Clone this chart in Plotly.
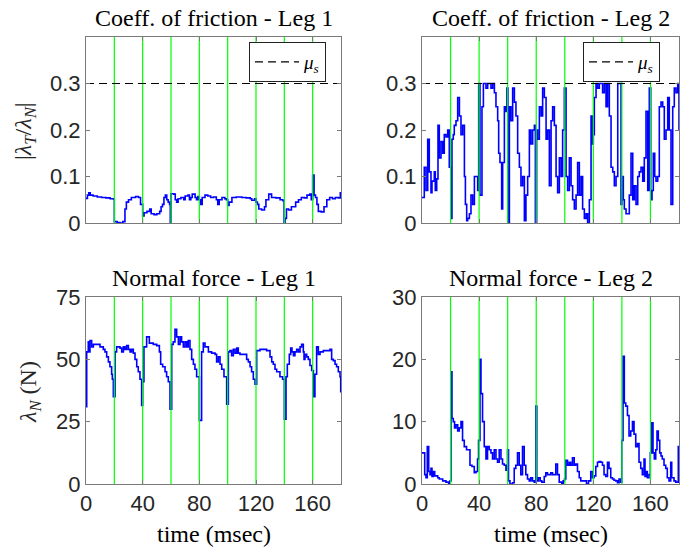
import plotly.graph_objects as go

# ---------------- data ----------------
contact_times = [20, 40, 60, 80, 100, 120, 140, 160]
mu_s = 0.3
x_ticks = [0, 40, 80, 120, 160]

# Coefficient of friction, leg 1: (time msec, |lambda_T/lambda_N|)
mu_leg1 = [(0,0.053),(1,0.06),(2,0.065),(3,0.06),(5,0.058),(8,0.056),(11,0.055),(14,0.054),(17,0.052),(19.5,0.051),
           (20,0.003),(22,0.001),(24,0.0),(26,0.003),(27.5,0.03),(28.5,0.045),(30,0.05),(32,0.055),(35,0.057),(37,0.055),(38.5,0.04),
           (40,0.015),(41,0.022),(43,0.025),(45,0.03),(46,0.02),(48,0.018),(50,0.02),(52,0.025),(53,0.035),(54,0.04),(55,0.055),(56,0.06),(57,0.05),(58,0.045),(59,0.04),
           (59.5,0.0),(60,0.063),(62,0.062),(63,0.05),(64,0.045),(65,0.052),(67,0.055),(69,0.05),(70,0.058),(72,0.06),(73,0.05),(74,0.055),(75,0.062),(77,0.055),(78,0.05),(79,0.057),
           (80,0.05),(81,0.04),(82,0.055),(84,0.06),(86,0.058),(88,0.055),(90,0.056),(92,0.05),(93,0.04),(94,0.05),(96,0.055),(98,0.052),(99,0.05),
           (100,0.038),(101,0.045),(103,0.055),(106,0.056),(110,0.055),(113,0.054),(116,0.052),(117,0.049),(119,0.052),
           (120,0.045),(121,0.04),(122,0.03),(124,0.028),(126,0.035),(127,0.05),(129,0.062),(131,0.055),(134,0.054),(137,0.05),(139,0.048),
           (139.8,0.0),(140.5,0.01),(141.5,0.03),(143,0.028),(145,0.035),(148,0.045),(150,0.05),(152,0.055),(154,0.054),(156,0.06),(158,0.062),(159,0.05),
           (160,0.103),(161,0.06),(162,0.055),(163,0.04),(164,0.025),(166,0.024),(168,0.035),(170,0.05),(172,0.055),(174,0.052),(176,0.055),(178,0.054),(179.5,0.065),(180,0.065)]

# Coefficient of friction, leg 2
mu_leg2 = [(0,0.055),(0.9,0.055),(1.6,0.12),(2.8,0.07),(4.0,0.18),(5.1,0.11),(6.3,0.065),(7.0,0.09),(8.6,0.11),(9.3,0.07),(10.3,0.095),
           (11.2,0.21),(12.1,0.14),(13.3,0.175),(14.5,0.15),(15.6,0.19),(16.8,0.185),(18.0,0.2),(19.1,0.12),(20.3,0.01),(21.0,0.18),
           (21.9,0.19),(22.6,0.21),(23.8,0.22),(25.0,0.27),(26.2,0.23),(27.3,0.19),(28.5,0.21),(29.7,0.1),(30.4,0.04),(31.3,0.005),
           (32.0,0.01),(33.2,0.02),(34.3,0.06),(35.5,0.04),(36.7,0.1),(37.8,0.1),(39.0,0.07),(39.7,0.3),(40.6,0.06),(41.3,0.06),
           (42.0,0.25),(43.0,0.3),(44.8,0.29),(46.0,0.3),(48.3,0.29),(49.5,0.3),(50.7,0.28),(51.8,0.25),(53.0,0.22),(53.7,0.15),
           (54.6,0.13),(55.8,0.03),(56.5,0.13),(57.7,0.25),(58.8,0.24),(59.5,0.29),(60.2,0.0),(61.2,0.25),(62.3,0.22),(63.5,0.29),
           (64.7,0.26),(65.8,0.23),(67.0,0.15),(68.2,0.12),(69.3,0.08),(70.5,0.1),(71.7,0.005),(72.8,0.06),(74.0,0.1),(75.2,0.2),
           (76.3,0.17),(77.5,0.2),(78.7,0.21),(79.4,0.0),(80.3,0.2),(81.0,0.18),(82.2,0.25),(83.4,0.23),(84.5,0.29),(85.7,0.27),
           (86.9,0.18),(88.0,0.2),(89.2,0.08),(90.4,0.22),(91.5,0.25),(92.7,0.21),(93.9,0.1),(95.0,0.065),(96.2,0.14),(97.4,0.1),
           (98.5,0.2),(99.7,0.29),(100.9,0.1),(102.0,0.07),(103.2,0.14),(104.4,0.08),(105.5,0.05),(106.7,0.03),(107.9,0.06),
           (109.0,0.13),(110.2,0.06),(111.4,0.1),(112.5,0.03),(113.7,0.01),(114.9,0.02),(116.0,0.0),(117.2,0.05),(118.4,0.23),
           (119.5,0.17),(120.0,0.19),(120.7,0.27),(121.9,0.3),(123.0,0.29),(124.2,0.3),(126.5,0.28),(127.7,0.3),(128.9,0.25),
           (130.0,0.3),(131.2,0.23),(132.4,0.12),(133.6,0.11),(134.7,0.08),(135.9,0.1),(137.1,0.3),(138.2,0.3),(139.4,0.04),
           (140.1,0.1),(141.0,0.05),(141.7,0.03),(142.9,0.02),(144.1,0.02),(145.2,0.06),(146.4,0.15),(147.6,0.05),(148.7,0.08),
           (149.9,0.04),(151.1,0.1),(152.2,0.11),(153.4,0.12),(154.6,0.09),(155.7,0.14),(156.9,0.24),(158.1,0.07),(159.2,0.29),
           (160.2,0.05),(161.1,0.07),(162.0,0.15),(163.0,0.1),(163.9,0.09),(165.1,0.1),(166.2,0.25),(167.4,0.26),(168.6,0.25),
           (169.7,0.18),(170.9,0.2),(172.1,0.27),(173.2,0.2),(174.4,0.04),(175.6,0.25),(176.7,0.29),(177.9,0.28),(179.1,0.3),(180,0.2)]

# Normal force, leg 1 (N)
force_leg1 = [(0,31),(0.5,53),(1.6,57),(2.4,53),(2.8,57.5),(4,55),(5.2,56),(7.5,56),(9.9,55),(12.2,54),(13.4,53),(14.6,51),
              (15.8,49),(16.9,47),(18.1,44),(18.6,42),(19.3,35),(20.5,53),(21.6,55),(24,54.5),(25.2,53),(26.4,55),(27.5,54),
              (28.7,55.5),(29.9,54),(31.1,53),(32.2,54),(33.4,52.5),(34.6,50),(35.8,47),(36.9,45),(38.1,42),(39.3,31.5),(40,41),
              (40.9,55),(42.8,59),(44.7,56.5),(47.5,56),(49.9,55.5),(51.8,53),(52.7,48),(54.1,47),(55.8,45),(56.9,43),(58.1,41),
              (59.3,30),(60.5,56),(61.6,57),(62.8,62),(64,59),(65.2,56),(66.4,59),(67.5,57),(68.7,55),(69.9,57),(71.1,55),
              (72.2,57.5),(73.4,54),(74.6,50),(75.8,48),(76.9,46),(78.1,43),(80,25.5),(81.6,53),(82.8,56.5),(84,55),(86.4,53),
              (88.7,52.5),(91.1,52),(92.2,49),(93.4,51),(94.6,48),(95.8,46),(97.4,43),(99.3,32),(100.5,53),(101.6,53.5),
              (102.8,51.5),(104,54),(105.2,52.5),(106.4,54.5),(107.5,52.5),(108.7,52),(111.1,52),(113.4,50),(114.6,49),
              (115.8,47),(116.9,45),(118.1,42),(119.3,40),(120.5,53.5),(122.8,54),(125.2,54),(127.5,53.5),(129.9,51),(131.1,49),
              (132.2,48),(133.4,46),(134.6,45),(136.9,43),(138.8,42),(140,26),(141.2,43),(142.1,48),(143.5,52),(144.5,54.5),
              (145.4,53),(146.4,51.5),(147.5,53),(148.7,54),(149.9,53),(151.1,55),(152.2,56),(153.4,53),(153.9,50),(154.6,52),
              (155.8,51),(156.9,50),(158.1,47.5),(159.3,45.5),(160.5,35),(161.6,44),(162.8,55),(164,52),(165.2,53),(167.5,53.5),
              (169.9,53.5),(172.2,54),(173.4,50),(174.6,49.5),(175.8,48),(176.9,47),(178.1,45),(179.3,43),(179.8,37),(180,37)]

# Normal force, leg 2 (N)
force_leg2 = [(0,5),(0.9,5),(1.9,1.5),(2.8,1),(3.7,6),(4.7,2),(5.6,1.5),(6.3,2.5),(7.0,1.2),(7.9,2),(8.9,1.3),(11.0,1),(12.1,0.8),
              (14.5,0.5),(16.8,0.3),(18.7,0.1),(19.6,0.5),(20.3,18),(21.0,10.5),(21.9,10),(22.8,9),(23.8,9.5),(25.0,8.5),(26.1,9),
              (27.3,10),(28.4,7),(29.6,6),(31.2,5.5),(32.6,5.5),(33.6,3),(35.0,2.8),(36.6,1.8),(37.8,2),(38.9,4),(39.6,7),(40.6,20),
              (41.3,14.5),(42.4,10),(43.6,6),(44.8,4),(45.9,6),(47.1,5.5),(48.3,5),(49.4,4),(50.6,5.5),(51.8,4),(52.9,3.5),(54.1,5.5),
              (55.3,4),(56.4,3.2),(57.6,3),(58.8,2.2),(59.9,5.5),(60.6,0.5),(61.6,0),(63.4,0.2),(64.6,2.5),(65.7,3),(66.9,5),(68.1,3),
              (69.2,1.5),(70.4,6),(71.6,3),(72.7,1.5),(73.9,0.8),(75.1,0.5),(76.2,1),(77.4,0.5),(78.6,0.3),(79.7,12.5),(80.4,0.5),
              (81.6,1),(82.8,0.5),(83.9,0.3),(85.6,1.2),(86.7,1.8),(87.9,1.5),(90.2,1.8),(91.4,1.5),(92.6,1.5),(93.7,3.2),(94.9,1.5),
              (96.1,0.3),(97.9,0),(98.9,0.5),(99.8,0.8),(100.7,3.8),(101.9,3),(103.1,3.5),(104.2,3),(105.4,4.2),(106.6,3),(107.7,3.2),
              (108.9,2),(110.1,1),(111.2,0.5),(112.4,0.5),(114.3,0.5),(115.2,0),(116.6,0.5),(118.2,2),(119.4,1),(120.5,1.3),(121.7,2.8),
              (122.9,3.5),(124.0,3.6),(125.2,3.5),(126.4,3),(127.5,1.5),(128.7,1.2),(129.9,3.5),(131.0,2.5),(132.2,1),(133.4,0.8),
              (134.5,0.6),(135.7,0.5),(136.9,0.2),(138.0,0.8),(139.2,0.3),(139.9,7),(140.8,20.5),(141.7,13),(142.7,12.5),(143.9,11),
              (145.0,7.7),(146.2,8.5),(147.4,10),(148.5,8),(149.7,6),(150.9,6.5),(152.0,3.5),(153.2,2.5),(154.3,1.5),(155.5,4),
              (156.2,1.2),(156.7,2),(157.8,1),(159.0,1.5),(159.9,5),(160.9,9.8),(161.8,5),(162.7,4),(163.7,5.5),(164.6,8.5),(165.5,7),
              (166.5,5),(167.4,4.5),(168.3,4),(169.5,3),(170.7,2.5),(171.8,1),(173.0,0.5),(174.2,3.5),(174.9,1),(176.5,0.5),(177.7,0.3),
              (178.8,0.3),(179.5,6),(180,6)]

titles = ["Coeff. of friction - Leg 1", "Coeff. of friction - Leg 2",
          "Normal force - Leg 1", "Normal force - Leg 2"]
y_ranges = [[0, 0.4], [0, 0.4], [0, 75], [0, 30]]
y_ticks = [[0, 0.1, 0.2, 0.3], [0, 0.1, 0.2, 0.3], [0, 25, 50, 75], [0, 10, 20, 30]]
y_ticktext = [["0", "0.1", "0.2", "0.3"], ["0", "0.1", "0.2", "0.3"], ["0", "25", "50", "75"], ["0", "10", "20", "30"]]
series = [mu_leg1, mu_leg2, force_leg1, force_leg2]

# ---------------- layout geometry ----------------
W, H = 692, 547
px_x = [(86, 341), (422, 679), (86, 341), (422, 679)]
px_y = [(37, 223), (37, 223), (297, 484), (297, 484)]


def fx(px):
    return px / W


def fy(py):
    return 1 - py / H


SERIF = "Liberation Serif"
SANS = "Liberation Sans"
AX_COL = "#7a7a7a"
TXT = "#262626"

fig = go.Figure()
layout = dict(width=W, height=H, autosize=False,
              margin=dict(l=0, r=0, t=0, b=0, pad=0, autoexpand=False),
              paper_bgcolor="white", plot_bgcolor="white", showlegend=True,
              annotations=[])

for i in range(4):
    xa = "x" if i == 0 else f"x{i+1}"
    ya = "y" if i == 0 else f"y{i+1}"
    xkey = "xaxis" if i == 0 else f"xaxis{i+1}"
    ykey = "yaxis" if i == 0 else f"yaxis{i+1}"
    x0, x1 = px_x[i]
    y0, y1 = px_y[i]
    layout[xkey] = dict(domain=[fx(x0), fx(x1)], range=[0, 180], anchor=ya,
                        tickvals=x_ticks, ticktext=[str(v) for v in x_ticks],
                        showticklabels=(i >= 2), ticks="inside", ticklen=4,
                        tickcolor=AX_COL, showline=True, linecolor=AX_COL, linewidth=1,
                        mirror="ticks", showgrid=False, zeroline=False, automargin=False,
                        tickfont=dict(family=SANS, size=22, color=TXT))
    layout[ykey] = dict(domain=[fy(y1), fy(y0)], range=y_ranges[i], anchor=xa,
                        tickvals=y_ticks[i], ticktext=y_ticktext[i],
                        ticks="inside", ticklen=4, tickcolor=AX_COL,
                        showline=True, linecolor=AX_COL, linewidth=1, mirror="ticks",
                        showgrid=False, zeroline=False, automargin=False,
                        tickfont=dict(family=SANS, size=22, color=TXT))

    ymax = y_ranges[i][1]
    # contact lines (green)
    gx, gy = [], []
    for c in contact_times:
        gx += [c, c, None]
        gy += [0, ymax, None]

    t_vals = [p[0] for p in series[i]]
    v_vals = [p[1] for p in series[i]]
    fig.add_trace(go.Scatter(x=t_vals, y=v_vals, mode="lines", line_shape="hv",
                             line=dict(color="#0000ff", width=1.6),
                             xaxis=xa, yaxis=ya, showlegend=False, hoverinfo="skip"))
    fig.add_trace(go.Scatter(x=gx, y=gy, mode="lines",
                             line=dict(color="#00ff00", width=1.2),
                             xaxis=xa, yaxis=ya, showlegend=False, hoverinfo="skip"))
    if i < 2:
        fig.add_trace(go.Scatter(x=[0, 180], y=[mu_s, mu_s], mode="lines",
                                 line=dict(color="black", width=1.2, dash="8px,5px"),
                                 name="<i>μ<sub>s</sub></i>",
                                 legend="legend" if i == 0 else "legend2",
                                 xaxis=xa, yaxis=ya, showlegend=True, hoverinfo="skip"))

    # subplot title
    layout["annotations"].append(dict(
        text=titles[i], x=fx((x0 + x1) / 2), y=fy(y0 - 19),
        xref="paper", yref="paper", xanchor="center", yanchor="middle",
        showarrow=False, font=dict(family=SERIF, size=24, color="black")))
    if i >= 2:
        layout["annotations"].append(dict(
            text="time (msec)", x=fx((x0 + x1) / 2), y=fy(534),
            xref="paper", yref="paper", xanchor="center", yanchor="middle",
            showarrow=False, font=dict(family=SERIF, size=24, color="black")))

layout["annotations"].append(dict(
    text="|<i>λ<sub>T</sub></i>/<i>λ<sub>N</sub></i>|", x=fx(25), y=fy(131),
    xref="paper", yref="paper", xanchor="center", yanchor="middle", textangle=-90,
    showarrow=False, font=dict(family=SERIF, size=24, color=TXT)))
layout["annotations"].append(dict(
    text="<i>λ<sub>N</sub></i> (N)", x=fx(30), y=fy(392),
    xref="paper", yref="paper", xanchor="center", yanchor="middle", textangle=-90,
    showarrow=False, font=dict(family=SERIF, size=24, color=TXT)))

leg_common = dict(xanchor="right", yanchor="top", bgcolor="white",
                  bordercolor="#222222", borderwidth=1, itemwidth=44,
                  font=dict(family=SERIF, size=19, color="black"),
                  tracegroupgap=0)
layout["legend"] = dict(x=fx(326), y=fy(42), **leg_common)
layout["legend2"] = dict(x=fx(660), y=fy(42), **leg_common)

fig.update_layout(**layout)
# remove the page's default body margin so figure pixels equal screen pixels
fig.write_html("out.html",
               config={"displayModeBar": False, "staticPlot": False},
               post_script="document.body.style.margin='0';document.body.style.padding='0';")
